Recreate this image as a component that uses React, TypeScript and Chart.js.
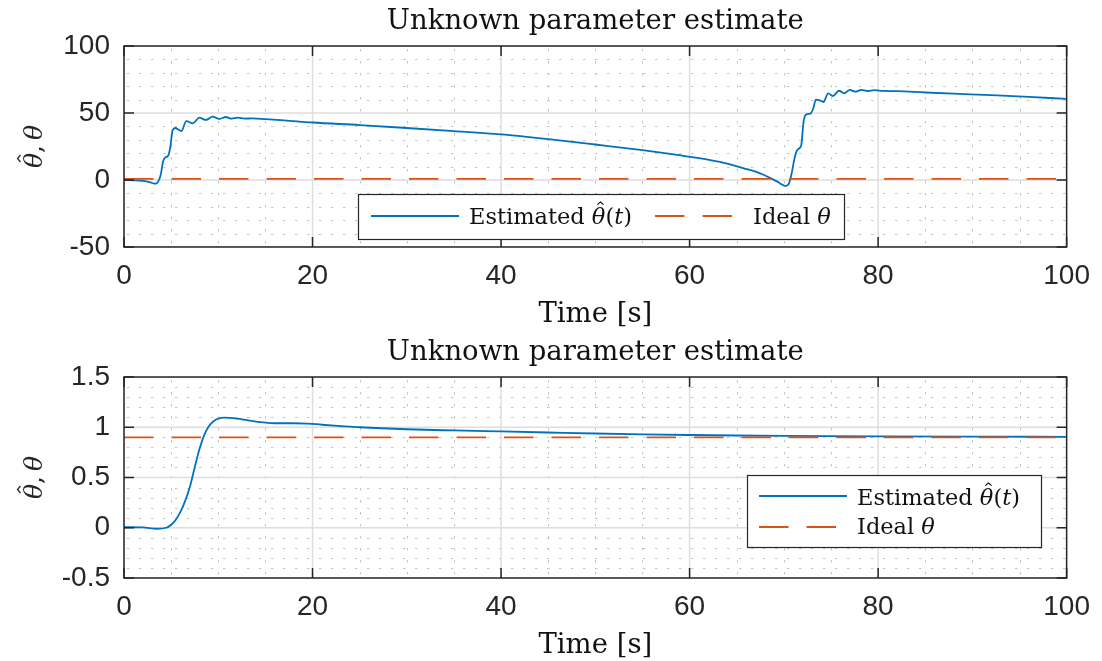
import React, { useEffect, useRef } from "react";
import { Chart, registerables } from "chart.js";

Chart.register(...registerables);

// ---------------- data ----------------
const xTicks = [0, 20, 40, 60, 80, 100];
const yTicksTop = [-50, 0, 50, 100];
const yTicksBottom = [-0.5, 0, 0.5, 1, 1.5];

const titleText = "Unknown parameter estimate";
const xLabelText = "Time [s]";

type Seg = { t: string; it?: boolean; hat?: boolean };

const legendEstimated: Seg[] = [
  { t: "Estimated " },
  { t: "\u03B8", it: true, hat: true },
  { t: "(" },
  { t: "t", it: true },
  { t: ")" },
];
const legendIdeal: Seg[] = [{ t: "Ideal " }, { t: "\u03B8", it: true }];
const yLabelSegs: Seg[] = [
  { t: "\u03B8", it: true, hat: true },
  { t: "," },
  { t: "\u2009" },
  { t: "\u03B8", it: true },
];

const timeTop = [
  0, 1, 2, 2.8, 3.3, 3.6, 3.9, 4.15, 4.4, 4.65, 4.9, 5.15, 5.45, 5.8, 6.1, 6.6,
  7.3, 8.0, 8.7, 9.4, 10.1, 10.8, 11.4, 12.1, 12.8, 13.6, 15, 17, 20, 25, 30,
  35, 40, 45, 50, 55, 58.7, 62.2, 64, 65.75, 67, 67.9, 68.7, 69.3, 69.8, 70.15,
  70.5, 70.8, 71.1, 71.35, 71.6, 71.85, 72.1, 72.4, 72.8, 73.1, 73.4, 73.8,
  74.2, 74.7, 75.2, 75.85, 76.4, 77.0, 77.6, 78.2, 78.9, 79.6, 80.5, 82, 85,
  88, 92, 96, 100,
];
const estimateTop = [
  0, -0.2, -0.7, -1.8, -2.8, -1.5, 4, 14, 17, 17.8, 24, 37, 38.8, 37.5, 36.5,
  44, 42.3, 46.5, 44.8, 47.3, 45.6, 47, 45.8, 46.5, 45.8, 46, 45.4, 44.5, 42.9,
  41, 38.8, 36.5, 34, 30.5, 26.5, 22.3, 18.7, 14.9, 12.3, 8.7, 6.2, 3.7, 1,
  -1.2, -3.3, -4.5, -3.2, 4, 15, 21.5, 23.5, 26, 44, 49, 49.5, 53, 60, 59.5,
  58.2, 64.7, 62.7, 66.6, 64.7, 67.2, 65.9, 67.2, 66.4, 67, 66.5, 66.3, 65.3,
  64.4, 63.3, 62, 60.5,
];

const timeBottom = [
  0, 2, 3.5, 4.5, 5, 5.5, 6, 6.5, 7, 7.5, 8, 8.5, 9, 9.5, 10, 10.7, 12, 13, 14,
  15, 16, 18, 19.5, 21, 23, 25, 30, 35, 40, 45, 50, 55, 60, 65, 70, 75, 80, 90,
  100,
];
const estimateBottom = [
  0.005, 0.003, -0.01, 0.0, 0.03, 0.08, 0.16, 0.27, 0.41, 0.6, 0.78, 0.92, 1.01,
  1.06, 1.085, 1.095, 1.085, 1.07, 1.055, 1.045, 1.04, 1.04, 1.037, 1.025,
  1.012, 1.0, 0.98, 0.968, 0.958, 0.948, 0.938, 0.93, 0.923, 0.918, 0.914,
  0.911, 0.909, 0.906, 0.905,
];

const idealTime = [0, 100];
const idealValue = [0.9, 0.9];

// ---------------- style ----------------
const BLUE = "#0072BD";
const ORANGE = "#D95319";
const AXIS = "#262626";
const SERIF = '"DejaVu Serif", serif';
const SANS = '"Liberation Sans", Arial, sans-serif';
const TICK_SIZE = 28;

function drawRich(
  ctx: CanvasRenderingContext2D,
  segs: Seg[],
  x: number,
  y: number,
  size: number,
  align: "left" | "center" = "left"
) {
  const fonts = segs.map((s) => `${s.it ? "italic " : ""}${size}px ${SERIF}`);
  const widths = segs.map((s, i) => {
    ctx.font = fonts[i];
    return ctx.measureText(s.t).width;
  });
  const total = widths.reduce((a, b) => a + b, 0);
  let cx = align === "center" ? x - total / 2 : x;
  ctx.textAlign = "left";
  segs.forEach((s, i) => {
    ctx.font = fonts[i];
    ctx.fillText(s.t, cx, y);
    if (s.hat) {
      const mid = cx + widths[i] / 2 + size * 0.08;
      const hw = size * 0.14;
      const top = y - size * 0.98;
      const base = y - size * 0.86;
      ctx.save();
      ctx.strokeStyle = ctx.fillStyle as string;
      ctx.lineWidth = Math.max(1, size * 0.05);
      ctx.setLineDash([]);
      ctx.beginPath();
      ctx.moveTo(mid - hw, base);
      ctx.lineTo(mid, top);
      ctx.lineTo(mid + hw, base);
      ctx.stroke();
      ctx.restore();
    }
    cx += widths[i];
  });
}

function minorValues(ticks: number[], div: number) {
  const out: number[] = [];
  for (let i = 0; i < ticks.length - 1; i++) {
    const step = (ticks[i + 1] - ticks[i]) / div;
    for (let k = 1; k < div; k++) out.push(ticks[i] + k * step);
  }
  return out;
}

type LegendCfg = {
  box: [number, number, number, number];
  rows: { x: number; y: number; tx: number; ty: number; color: string; dash: number[]; segs: Seg[] }[];
};

type PanelCfg = {
  height: number;
  padTop: number;
  yMin: number;
  yMax: number;
  yTicks: number[];
  time: number[];
  est: number[];
  legend: LegendCfg;
};

function panelPlugin(cfg: PanelCfg) {
  return {
    id: "panel",
    beforeDatasetsDraw(chart: any) {
      const { ctx, chartArea: a } = chart;
      const xs = chart.scales.x;
      const ys = chart.scales.y;
      ctx.save();
      ctx.beginPath();
      ctx.rect(a.left, a.top, a.right - a.left, a.bottom - a.top);
      ctx.clip();
      // minor grid (dotted)
      ctx.lineWidth = 1;
      ctx.strokeStyle = "#c4c4c4";
      ctx.setLineDash([2.5, 9.5]);
      ctx.lineDashOffset = -3;
      minorValues(xTicks, 4).forEach((v) => {
        const p = Math.round(xs.getPixelForValue(v)) + 0.5;
        ctx.beginPath();
        ctx.moveTo(p, a.top);
        ctx.lineTo(p, a.bottom);
        ctx.stroke();
      });
      minorValues(cfg.yTicks, 5).forEach((v) => {
        const p = Math.round(ys.getPixelForValue(v)) + 0.5;
        ctx.beginPath();
        ctx.moveTo(a.left, p);
        ctx.lineTo(a.right, p);
        ctx.stroke();
      });
      // major grid
      ctx.setLineDash([]);
      ctx.strokeStyle = "#dedede";
      ctx.lineWidth = 1.5;
      xTicks.forEach((v) => {
        const p = xs.getPixelForValue(v);
        ctx.beginPath();
        ctx.moveTo(p, a.top);
        ctx.lineTo(p, a.bottom);
        ctx.stroke();
      });
      cfg.yTicks.forEach((v) => {
        const p = ys.getPixelForValue(v);
        ctx.beginPath();
        ctx.moveTo(a.left, p);
        ctx.lineTo(a.right, p);
        ctx.stroke();
      });
      ctx.restore();
    },
    afterDraw(chart: any) {
      const { ctx, chartArea: a } = chart;
      const xs = chart.scales.x;
      const ys = chart.scales.y;
      ctx.save();
      // box
      ctx.setLineDash([]);
      ctx.strokeStyle = AXIS;
      ctx.lineWidth = 1.5;
      ctx.strokeRect(a.left, a.top, a.right - a.left, a.bottom - a.top);
      // inward ticks
      const TL = 10;
      ctx.beginPath();
      xTicks.forEach((v) => {
        const p = xs.getPixelForValue(v);
        ctx.moveTo(p, a.bottom);
        ctx.lineTo(p, a.bottom - TL);
        ctx.moveTo(p, a.top);
        ctx.lineTo(p, a.top + TL);
      });
      cfg.yTicks.forEach((v) => {
        const p = ys.getPixelForValue(v);
        ctx.moveTo(a.left, p);
        ctx.lineTo(a.left + TL, p);
        ctx.moveTo(a.right, p);
        ctx.lineTo(a.right - TL, p);
      });
      ctx.stroke();

      // legend
      const [bx, by, bw, bh] = cfg.legend.box;
      ctx.fillStyle = "#ffffff";
      ctx.fillRect(bx, by, bw, bh);
      ctx.lineWidth = 1.2;
      ctx.strokeStyle = AXIS;
      ctx.strokeRect(bx + 0.5, by + 0.5, bw, bh);
      cfg.legend.rows.forEach((r) => {
        ctx.strokeStyle = r.color;
        ctx.lineWidth = 1.8;
        ctx.setLineDash(r.dash);
        ctx.beginPath();
        ctx.moveTo(r.x, r.y);
        ctx.lineTo(r.x + 88, r.y);
        ctx.stroke();
        ctx.setLineDash([]);
        ctx.fillStyle = "#111111";
        ctx.textBaseline = "alphabetic";
        drawRich(ctx, r.segs, r.tx, r.ty, 22.5);
      });

      // title & x label
      const cx = (a.left + a.right) / 2;
      ctx.fillStyle = "#111111";
      ctx.textBaseline = "alphabetic";
      drawRich(ctx, [{ t: titleText }], cx, a.top - 17, 27.5, "center");
      drawRich(ctx, [{ t: xLabelText }], cx, a.bottom + 75, 27.5, "center");

      // y label (rotated)
      ctx.save();
      ctx.translate(42, (a.top + a.bottom) / 2);
      ctx.rotate(-Math.PI / 2);
      ctx.fillStyle = "#262626";
      drawRich(ctx, yLabelSegs, 0, 0, 25, "center");
      ctx.restore();

      ctx.restore();
    },
  };
}

function makeChart(canvas: HTMLCanvasElement, cfg: PanelCfg) {
  const estData = cfg.time.map((t, i) => ({ x: t, y: cfg.est[i] }));
  const idealData = idealTime.map((t, i) => ({ x: t, y: idealValue[i] }));
  return new Chart(canvas, {
    type: "line",
    data: {
      datasets: [
        {
          label: "Estimated",
          data: estData,
          borderColor: BLUE,
          borderWidth: 1.8,
          pointRadius: 0,
          fill: false,
          cubicInterpolationMode: "monotone",
          order: 1,
        },
        {
          label: "Ideal",
          data: idealData,
          borderColor: ORANGE,
          borderWidth: 1.8,
          borderDash: [29.5, 18],
          pointRadius: 0,
          fill: false,
          order: 0,
        },
      ],
    },
    options: {
      responsive: false,
      animation: false,
      events: [],
      layout: { padding: { top: cfg.padTop, right: 31, left: 0, bottom: 0 } },
      plugins: {
        legend: { display: false },
        title: { display: false },
        tooltip: { enabled: false },
      },
      scales: {
        x: {
          type: "linear",
          min: 0,
          max: 100,
          afterBuildTicks: (s: any) => {
            s.ticks = xTicks.map((v) => ({ value: v }));
          },
          afterFit: (s: any) => {
            s.height = 83;
          },
          grid: { display: false, drawTicks: false },
          border: { display: false },
          ticks: {
            font: { family: SANS, size: TICK_SIZE },
            color: AXIS,
            padding: 12,
            maxRotation: 0,
            autoSkip: false,
            callback: (v: any) => String(v),
          },
        },
        y: {
          type: "linear",
          min: cfg.yMin,
          max: cfg.yMax,
          afterBuildTicks: (s: any) => {
            s.ticks = cfg.yTicks.map((v) => ({ value: v }));
          },
          afterFit: (s: any) => {
            s.width = 124;
          },
          grid: { display: false, drawTicks: false },
          border: { display: false },
          ticks: {
            font: { family: SANS, size: TICK_SIZE },
            color: AXIS,
            padding: 14,
            autoSkip: false,
            callback: (v: any) => String(v),
          },
        },
      },
    },
    plugins: [panelPlugin(cfg) as any],
  });
}

const topCfg: PanelCfg = {
  height: 330,
  padTop: 46,
  yMin: -50,
  yMax: 100,
  yTicks: yTicksTop,
  time: timeTop,
  est: estimateTop,
  legend: {
    box: [358, 194, 486, 45],
    rows: [
      { x: 371, y: 216, tx: 469, ty: 224, color: BLUE, dash: [], segs: legendEstimated },
      { x: 655, y: 216, tx: 753, ty: 224, color: ORANGE, dash: [29.5, 18], segs: legendIdeal },
    ],
  },
};

const bottomCfg: PanelCfg = {
  height: 331,
  padTop: 47,
  yMin: -0.5,
  yMax: 1.5,
  yTicks: yTicksBottom,
  time: timeBottom,
  est: estimateBottom,
  legend: {
    box: [747, 145, 294, 72],
    rows: [
      { x: 759, y: 166, tx: 857, ty: 175, color: BLUE, dash: [], segs: legendEstimated },
      { x: 759, y: 197, tx: 857, ty: 204, color: ORANGE, dash: [29.5, 18], segs: legendIdeal },
    ],
  },
};

export default function App() {
  const topRef = useRef<HTMLCanvasElement>(null);
  const botRef = useRef<HTMLCanvasElement>(null);

  useEffect(() => {
    const c1 = makeChart(topRef.current as HTMLCanvasElement, topCfg);
    const c2 = makeChart(botRef.current as HTMLCanvasElement, bottomCfg);
    return () => {
      c1.destroy();
      c2.destroy();
    };
  }, []);

  return (
    <div
      style={{
        position: "fixed",
        left: 0,
        top: 0,
        width: 1102,
        height: 661,
        background: "#ffffff",
        overflow: "hidden",
      }}
    >
      <canvas
        ref={topRef}
        width={1102}
        height={330}
        style={{ position: "absolute", left: 0, top: 0, width: 1102, height: 330 }}
      />
      <canvas
        ref={botRef}
        width={1102}
        height={331}
        style={{ position: "absolute", left: 0, top: 330, width: 1102, height: 331 }}
      />
    </div>
  );
}
